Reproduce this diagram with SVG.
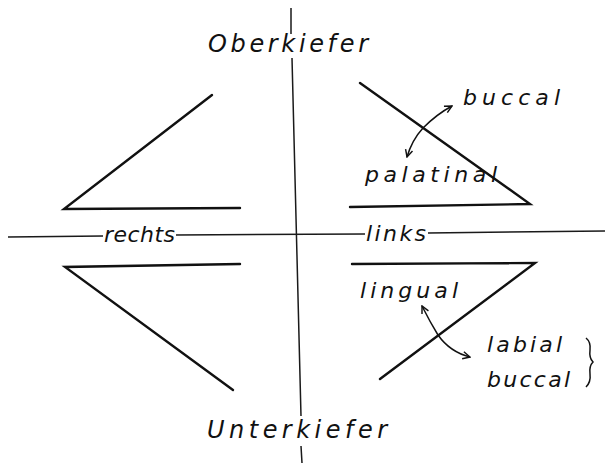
<svg xmlns="http://www.w3.org/2000/svg" width="605" height="463" viewBox="0 0 605 463">
<defs>
<marker id="ah" viewBox="0 0 10 10" refX="9" refY="5" markerWidth="9" markerHeight="9" orient="auto-start-reverse" markerUnits="userSpaceOnUse">
<path d="M1,1 L9,5 L1,9" fill="none" stroke="#111" stroke-width="1.6"/>
</marker>
<style>
.ax{stroke:#1a1a1a;stroke-width:1.5;fill:none}
.sh{stroke:#111;stroke-width:2.4;fill:none;stroke-linejoin:miter;stroke-linecap:round}
.ar{stroke:#111;stroke-width:1.5;fill:none}
text{font-family:"DejaVu Sans","Liberation Sans",sans-serif;font-style:italic;fill:#111;font-size:22px}
.big{font-size:24px}
</style>
</defs>
<rect width="605" height="463" fill="#fff"/>
<g id="connectors">
<path class="ax" d="M291,8 L291,34 M292,58 L301,416 M301,446 L302,463"/>
<path class="ax" d="M8,237 L103,236 M176,235 L365,234 M428,233 L605,231"/>
<path class="ar" d="M407,157 Q412,140 423,128 Q437,114 452,106" marker-start="url(#ah)" marker-end="url(#ah)"/>
<path class="ar" d="M422,306 Q430,322 438,335 Q450,352 470,357" marker-start="url(#ah)" marker-end="url(#ah)"/>
</g>
<g id="upper-left"><path class="sh" d="M212,95 L64,209 L240,208"/></g>
<g id="lower-left"><path class="sh" d="M240,264 L65,267 L233,390"/></g>
<g id="upper-right"><path class="sh" d="M360,83 L530,204 L350,207"/></g>
<g id="lower-right"><path class="sh" d="M352,264 L535,263 L380,379"/></g>
<g id="label-oberkiefer"><text class="big" x="208" y="52" textLength="160" lengthAdjust="spacing">Oberkiefer</text></g>
<g id="label-unterkiefer"><text class="big" x="207" y="438" textLength="180" lengthAdjust="spacing">Unterkiefer</text></g>
<g id="label-rechts"><text x="104" y="242" textLength="71" lengthAdjust="spacing">rechts</text></g>
<g id="label-links"><text x="366" y="241" textLength="60" lengthAdjust="spacing">links</text></g>
<g id="label-buccal-top"><text x="463" y="105" textLength="97" lengthAdjust="spacing">buccal</text></g>
<g id="label-palatinal"><text x="365" y="182" textLength="132" lengthAdjust="spacing">palatinal</text></g>
<g id="label-lingual"><text x="360" y="298" textLength="98" lengthAdjust="spacing">lingual</text></g>
<g id="label-labial"><text x="487" y="352" textLength="75" lengthAdjust="spacing">labial</text></g>
<g id="label-buccal-bottom"><text x="487" y="387" textLength="83" lengthAdjust="spacing">buccal</text></g>
<g id="brace"><path class="ar" d="M586,338 Q591,342 590,350 Q589,358 593,362 Q589,366 590,374 Q591,382 586,387"/></g>
</svg>
